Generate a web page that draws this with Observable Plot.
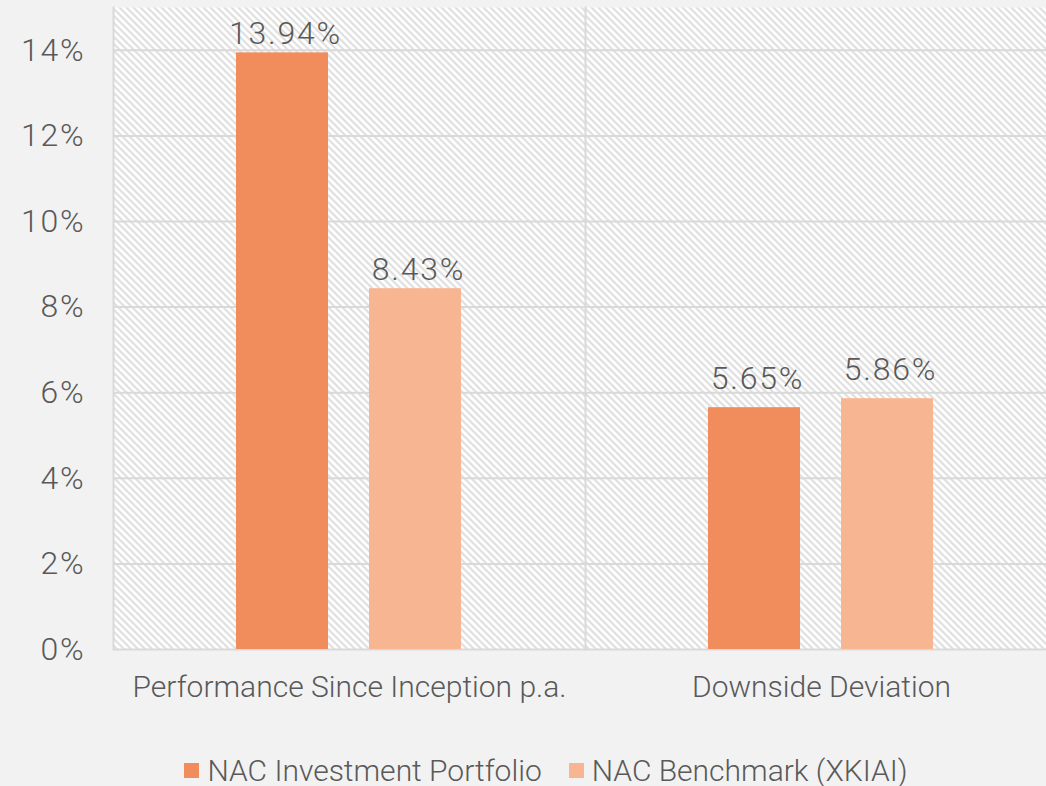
<!DOCTYPE html>
<html>
<head>
<meta charset="utf-8">
<script src="https://cdn.jsdelivr.net/npm/d3@7"></script>
<script src="https://cdn.jsdelivr.net/npm/@observablehq/plot@0.6"></script>
<style>
  html, body { margin: 0; padding: 0; background: #f2f2f2; }
  body { width: 1046px; height: 786px; overflow: hidden; font-family: Roboto, "Noto Sans", sans-serif; font-weight: 300; color: #595959; }
  #chart { width: 1046px; height: 712px; overflow: hidden; }
  #chart svg { max-width: none !important; display: block; }
  #legend { width: 1046px; display: flex; justify-content: center; align-items: center; gap: 27px; font-size: 30px; margin-top: 41px; padding-left: 46px; box-sizing: border-box; }
  #legend .item { display: flex; align-items: center; gap: 8px; }
  #legend .sw { width: 15px; height: 15px; display: inline-block; }
</style>
</head>
<body>
<div id="chart"></div>
<div id="legend"></div>
<script>
const categories = ["Performance Since Inception p.a.", "Downside Deviation"];
const seriesNames = ["NAC Investment Portfolio", "NAC Benchmark (XKIAI)"];
const portfolioValues = [13.94, 5.65];
const benchmarkValues = [8.43, 5.86];
const yTicks = [0, 2, 4, 6, 8, 10, 12, 14];
const colors = ["#F18D5C", "#F8B592"];

const data = [];
categories.forEach((c, i) => {
  data.push({category: c, series: seriesNames[0], value: portfolioValues[i]});
  data.push({category: c, series: seriesNames[1], value: benchmarkValues[i]});
});

const numStyle = {fontSize: 32};

const chart = Plot.plot({
  width: 1057,
  height: 712,
  marginTop: 7,
  marginBottom: 63,
  marginLeft: 113,
  marginRight: 0,
  style: {background: "transparent", fontFamily: "Roboto, 'Noto Sans', sans-serif", fontWeight: 300, color: "#595959", fontSize: "30px"},
  fx: {domain: categories, padding: 0, label: null, tickSize: 0, tickPadding: 26},
  x: {domain: seriesNames, paddingInner: 0.308, paddingOuter: 0.928, axis: null},
  y: {domain: [0, 15], label: null, grid: false, axis: null},
  color: {domain: seriesNames, range: colors},
  marks: [
    Plot.frame({fill: "url(#hatch)", stroke: "none"}),
    Plot.gridY(yTicks.filter(d => d > 0), {stroke: "#d9d9d9", strokeOpacity: 1, strokeWidth: 2}),
    Plot.frame({anchor: "left", stroke: "#d9d9d9", strokeWidth: 2, strokeOpacity: 1}),
    Plot.ruleY([0], {stroke: "#d9d9d9", strokeWidth: 2}),
    Plot.axisY(yTicks, {tickFormat: d => d + "%", tickSize: 0, tickPadding: 28, label: null, fontSize: 32}),
    Plot.barY(data, {fx: "category", x: "series", y: "value", fill: "series"}),
    Plot.text(data.filter(d => d.category === categories[0]), {fx: "category", x: "series", y: "value", text: d => d.value.toFixed(2) + "%", lineAnchor: "middle", dy: -19, dx: 3, fill: "#595959", ...numStyle}),
    Plot.text(data.filter(d => d.category === categories[1]), {fx: "category", x: "series", y: "value", text: d => d.value.toFixed(2) + "%", lineAnchor: "middle", dy: -29, dx: 3, fill: "#595959", ...numStyle})
  ]
});

// Hatch pattern definition for the plot area
const ns = "http://www.w3.org/2000/svg";
const defs = document.createElementNS(ns, "defs");
const pat = document.createElementNS(ns, "pattern");
pat.setAttribute("id", "hatch");
pat.setAttribute("patternUnits", "userSpaceOnUse");
pat.setAttribute("width", "7");
pat.setAttribute("height", "7");
const bg = document.createElementNS(ns, "rect");
bg.setAttribute("width", "7"); bg.setAttribute("height", "7"); bg.setAttribute("fill", "#ffffff");
const p = document.createElementNS(ns, "path");
p.setAttribute("d", "M0,0 L7,7 M-1,6 L1,8 M6,-1 L8,1");
p.setAttribute("stroke", "#d6d6d6");
p.setAttribute("stroke-width", "1.6");
pat.appendChild(bg); pat.appendChild(p);
defs.appendChild(pat);
chart.insertBefore(defs, chart.firstChild);

// letter spacing for numeric text
chart.querySelectorAll("text").forEach(t => {
  if (/%$/.test(t.textContent)) t.setAttribute("letter-spacing", "1.8px");
});

document.getElementById("chart").appendChild(chart);

const legend = document.getElementById("legend");
seriesNames.forEach((s, i) => {
  const item = document.createElement("div");
  item.className = "item";
  const sw = document.createElement("span");
  sw.className = "sw";
  sw.style.background = colors[i];
  const t = document.createElement("span");
  t.textContent = s;
  item.appendChild(sw); item.appendChild(t);
  legend.appendChild(item);
});
</script>
</body>
</html>
